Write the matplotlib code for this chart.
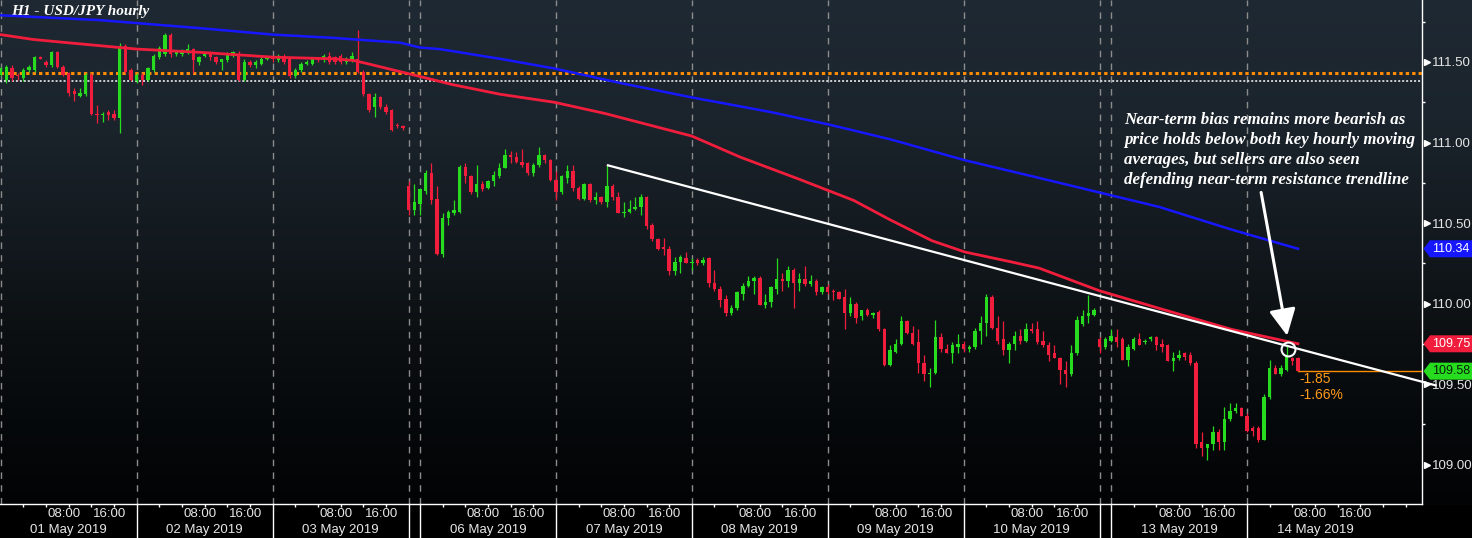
import numpy as np
import matplotlib
matplotlib.use("Agg")
import matplotlib.pyplot as plt
from matplotlib.patches import Polygon
from matplotlib.transforms import blended_transform_factory

# hourly bars, x = hours since 01 May 2019 00:00 (weekend dropped, 2 Sunday bars kept)
bar_hours = list(range(230))

opens = [
    111.42, 111.39, 111.46, 111.42, 111.40, 111.45, 111.45, 111.53, 111.50, 111.48,
    111.56, 111.47, 111.43, 111.32, 111.29, 111.30, 111.42, 111.18, 111.17, 111.19,
    111.18, 111.15, 111.60, 111.45, 111.38, 111.42, 111.39, 111.45, 111.53, 111.55,
    111.67, 111.55, 111.55, 111.56, 111.58, 111.50, 111.54, 111.56, 111.53, 111.50,
    111.51, 111.54, 111.54, 111.39, 111.50, 111.48, 111.49, 111.52, 111.53, 111.51,
    111.54, 111.52, 111.41, 111.45, 111.49, 111.49, 111.52, 111.51, 111.54, 111.53,
    111.54, 111.50, 111.51, 111.52, 111.44, 111.30, 111.22, 111.28, 111.22, 111.20,
    111.11, 111.10, 110.73, 110.58, 110.62, 110.70, 110.81, 110.65, 110.31, 110.53,
    110.56, 110.57, 110.85, 110.79, 110.69, 110.74, 110.72, 110.76, 110.79, 110.84,
    110.92, 110.91, 110.88, 110.87, 110.81, 110.86, 110.92, 110.89, 110.77, 110.69,
    110.78, 110.82, 110.72, 110.65, 110.74, 110.64, 110.66, 110.63, 110.73, 110.66,
    110.56, 110.57, 110.59, 110.60, 110.66, 110.49, 110.40, 110.35, 110.34, 110.20,
    110.26, 110.28, 110.25, 110.27, 110.25, 110.28, 110.13, 110.09, 110.03, 109.94,
    109.97, 110.06, 110.11, 110.14, 110.16, 109.99, 110.01, 110.09, 110.15, 110.14,
    110.21, 110.13, 110.15, 110.12, 110.14, 110.07, 110.10, 110.08, 110.07, 110.04,
    109.94, 110.00, 109.92, 109.96, 109.93, 109.95, 109.84, 109.62, 109.70, 109.75,
    109.89, 109.82, 109.76, 109.63, 109.56, 109.57, 109.79, 109.72, 109.69, 109.73,
    109.75, 109.72, 109.73, 109.83, 109.88, 110.04, 109.85, 109.78, 109.71, 109.75,
    109.80, 109.77, 109.84, 109.84, 109.77, 109.74, 109.69, 109.66, 109.59, 109.56,
    109.69, 109.87, 109.92, 109.93, 109.78, 109.73, 109.77, 109.79, 109.78, 109.65,
    109.72, 109.78, 109.76, 109.78, 109.79, 109.75, 109.74, 109.64, 109.66, 109.69,
    109.68, 109.63, 109.14, 109.10, 109.13, 109.20, 109.14, 109.28, 109.33, 109.35,
    109.30, 109.23, 109.23, 109.15, 109.42, 109.60, 109.56, 109.59, 109.66, 109.66,
]
highs = [
    111.47, 111.48, 111.48, 111.43, 111.46, 111.48, 111.54, 111.54, 111.51, 111.57,
    111.57, 111.48, 111.44, 111.34, 111.34, 111.43, 111.43, 111.23, 111.19, 111.20,
    111.20, 111.62, 111.61, 111.46, 111.43, 111.43, 111.47, 111.55, 111.60, 111.68,
    111.68, 111.57, 111.58, 111.61, 111.59, 111.54, 111.56, 111.57, 111.54, 111.52,
    111.56, 111.57, 111.57, 111.52, 111.51, 111.51, 111.53, 111.54, 111.54, 111.55,
    111.55, 111.53, 111.46, 111.50, 111.51, 111.52, 111.53, 111.55, 111.56, 111.54,
    111.55, 111.53, 111.56, 111.70, 111.45, 111.31, 111.31, 111.29, 111.24, 111.21,
    111.12, 111.11, 110.76, 110.74, 110.72, 110.83, 110.87, 110.73, 110.56, 110.58,
    110.64, 110.86, 110.87, 110.80, 110.86, 110.76, 110.77, 110.82, 110.87, 110.96,
    110.95, 110.94, 110.96, 110.88, 110.87, 110.97, 110.93, 110.90, 110.82, 110.80,
    110.86, 110.86, 110.73, 110.75, 110.75, 110.69, 110.67, 110.86, 110.74, 110.69,
    110.63, 110.64, 110.66, 110.68, 110.67, 110.50, 110.41, 110.41, 110.36, 110.29,
    110.30, 110.32, 110.28, 110.28, 110.29, 110.29, 110.21, 110.11, 110.05, 109.99,
    110.08, 110.13, 110.17, 110.17, 110.17, 110.06, 110.11, 110.28, 110.19, 110.23,
    110.22, 110.19, 110.23, 110.18, 110.15, 110.11, 110.12, 110.09, 110.08, 110.09,
    110.04, 110.01, 109.96, 109.97, 109.95, 109.96, 109.85, 109.74, 109.78, 109.92,
    109.90, 109.86, 109.84, 109.68, 109.60, 109.90, 109.82, 109.75, 109.76, 109.81,
    109.77, 109.74, 109.85, 109.92, 110.06, 110.05, 109.92, 109.89, 109.76, 109.83,
    109.84, 109.88, 109.88, 109.89, 109.83, 109.76, 109.74, 109.67, 109.64, 109.74,
    109.92, 109.96, 110.05, 109.97, 109.79, 109.79, 109.84, 109.84, 109.79, 109.75,
    109.79, 109.82, 109.78, 109.80, 109.80, 109.78, 109.75, 109.70, 109.71, 109.70,
    109.70, 109.64, 109.20, 109.13, 109.24, 109.22, 109.36, 109.38, 109.38, 109.36,
    109.32, 109.24, 109.24, 109.44, 109.65, 109.62, 109.62, 109.74, 109.67, 109.67,
]
lows = [
    111.41, 111.37, 111.38, 111.39, 111.38, 111.44, 111.44, 111.52, 111.47, 111.47,
    111.46, 111.41, 111.29, 111.26, 111.28, 111.29, 111.17, 111.12, 111.13, 111.14,
    111.14, 111.06, 111.43, 111.38, 111.37, 111.36, 111.38, 111.44, 111.52, 111.54,
    111.53, 111.54, 111.54, 111.55, 111.43, 111.48, 111.53, 111.51, 111.49, 111.45,
    111.50, 111.53, 111.38, 111.38, 111.47, 111.46, 111.48, 111.51, 111.50, 111.50,
    111.49, 111.40, 111.40, 111.44, 111.48, 111.48, 111.50, 111.50, 111.49, 111.49,
    111.49, 111.49, 111.50, 111.43, 111.29, 111.19, 111.16, 111.21, 111.18, 111.07,
    111.09, 111.08, 110.55, 110.55, 110.55, 110.68, 110.62, 110.30, 110.29, 110.49,
    110.55, 110.56, 110.75, 110.68, 110.66, 110.70, 110.71, 110.73, 110.78, 110.84,
    110.87, 110.87, 110.85, 110.80, 110.79, 110.85, 110.87, 110.76, 110.64, 110.68,
    110.75, 110.70, 110.64, 110.64, 110.63, 110.62, 110.62, 110.60, 110.64, 110.56,
    110.54, 110.56, 110.58, 110.55, 110.46, 110.39, 110.33, 110.30, 110.18, 110.18,
    110.19, 110.25, 110.21, 110.24, 110.24, 110.10, 110.08, 109.98, 109.92, 109.93,
    109.96, 110.02, 110.10, 110.06, 109.99, 109.97, 109.98, 110.06, 110.08, 110.10,
    109.97, 110.08, 110.11, 110.11, 110.05, 110.06, 110.06, 110.02, 110.03, 109.84,
    109.92, 109.88, 109.90, 109.92, 109.91, 109.83, 109.61, 109.61, 109.69, 109.74,
    109.81, 109.74, 109.57, 109.52, 109.48, 109.56, 109.70, 109.69, 109.63, 109.69,
    109.70, 109.70, 109.72, 109.75, 109.80, 109.84, 109.75, 109.68, 109.63, 109.71,
    109.75, 109.76, 109.82, 109.75, 109.73, 109.64, 109.66, 109.50, 109.48, 109.55,
    109.68, 109.86, 109.88, 109.92, 109.69, 109.72, 109.76, 109.73, 109.65, 109.61,
    109.71, 109.74, 109.75, 109.77, 109.71, 109.70, 109.64, 109.58, 109.65, 109.65,
    109.62, 109.10, 109.05, 109.03, 109.09, 109.09, 109.09, 109.27, 109.32, 109.30,
    109.20, 109.18, 109.14, 109.15, 109.41, 109.56, 109.55, 109.58, 109.62, 109.58,
]
closes = [
    111.46, 111.47, 111.40, 111.41, 111.45, 111.47, 111.53, 111.52, 111.48, 111.56,
    111.47, 111.42, 111.31, 111.30, 111.31, 111.42, 111.18, 111.17, 111.18, 111.17,
    111.15, 111.60, 111.44, 111.39, 111.42, 111.39, 111.46, 111.54, 111.59, 111.67,
    111.55, 111.56, 111.57, 111.58, 111.51, 111.53, 111.55, 111.53, 111.50, 111.52,
    111.55, 111.56, 111.39, 111.50, 111.48, 111.50, 111.52, 111.53, 111.52, 111.54,
    111.50, 111.41, 111.45, 111.49, 111.50, 111.52, 111.51, 111.54, 111.50, 111.50,
    111.50, 111.52, 111.54, 111.44, 111.30, 111.20, 111.28, 111.22, 111.19, 111.08,
    111.10, 111.09, 110.58, 110.63, 110.71, 110.81, 110.64, 110.31, 110.53, 110.57,
    110.58, 110.85, 110.79, 110.69, 110.74, 110.71, 110.76, 110.80, 110.84, 110.92,
    110.91, 110.88, 110.86, 110.81, 110.86, 110.92, 110.89, 110.77, 110.69, 110.79,
    110.82, 110.72, 110.65, 110.74, 110.64, 110.66, 110.63, 110.73, 110.66, 110.56,
    110.57, 110.59, 110.60, 110.66, 110.48, 110.40, 110.34, 110.34, 110.20, 110.26,
    110.29, 110.25, 110.26, 110.25, 110.27, 110.13, 110.09, 110.02, 109.94, 109.97,
    110.07, 110.11, 110.14, 110.16, 109.99, 110.01, 110.10, 110.15, 110.14, 110.21,
    110.13, 110.15, 110.12, 110.14, 110.07, 110.10, 110.07, 110.07, 110.03, 109.94,
    110.00, 109.91, 109.96, 109.93, 109.94, 109.84, 109.62, 109.71, 109.75, 109.89,
    109.82, 109.75, 109.63, 109.56, 109.57, 109.79, 109.72, 109.69, 109.74, 109.75,
    109.72, 109.73, 109.83, 109.88, 110.04, 109.85, 109.77, 109.71, 109.75, 109.80,
    109.77, 109.84, 109.83, 109.76, 109.74, 109.68, 109.66, 109.59, 109.56, 109.69,
    109.90, 109.92, 109.94, 109.96, 109.73, 109.78, 109.80, 109.76, 109.65, 109.73,
    109.78, 109.74, 109.77, 109.79, 109.74, 109.73, 109.64, 109.66, 109.68, 109.67,
    109.63, 109.13, 109.10, 109.13, 109.20, 109.14, 109.28, 109.33, 109.35, 109.30,
    109.21, 109.21, 109.15, 109.42, 109.60, 109.56, 109.60, 109.68, 109.64, 109.58,
]

# hourly moving averages at a few points
ma_red_hours = [0, 5.7, 11.7, 24.1, 35.2, 48.1, 58.6, 62.2, 64.7, 70.5, 74, 79.7, 88.1, 97.7,
                106.7, 122, 130.5, 141.1, 150.6, 157, 164.4, 170.2, 178.2, 183.3, 193.9,
                204.5, 217.2, 229]
ma_red = [111.67, 111.64, 111.62, 111.58, 111.56, 111.53, 111.52, 111.51, 111.49, 111.44,
          111.41, 111.36, 111.30, 111.25, 111.18, 111.04, 110.91, 110.77, 110.64, 110.52,
          110.39, 110.32, 110.26, 110.22, 110.08, 109.97, 109.84, 109.75]
ma_blue_hours = [0, 17.5, 35.2, 48.1, 58.6, 70.5, 74, 77.5, 88.1, 97.7, 109.3, 122, 135.8,
                 146.4, 157, 170.2, 183.3, 193.9, 204.5, 217.2, 229]
ma_blue = [111.79, 111.76, 111.71, 111.67, 111.65, 111.62, 111.59, 111.58, 111.52, 111.46,
           111.37, 111.28, 111.19, 111.11, 111.02, 110.89, 110.78, 110.69, 110.60, 110.46,
           110.34]

trend_hours = [107, 253.5]
trend_prices = [110.86, 109.49]

session_breaks = [0, 24, 48, 72, 74, 98, 122, 146, 170, 194, 196, 220]
day_starts = [0, 24, 48, 74, 98, 122, 146, 170, 196, 220]
day_labels = ['01 May 2019', '02 May 2019', '03 May 2019', '06 May 2019', '07 May 2019',
              '08 May 2019', '09 May 2019', '10 May 2019', '13 May 2019', '14 May 2019']

orange_level = 111.43
white_level = 111.38
last_price = 109.58
tag_values = [110.34, 109.75, 109.58]
change_lines = ['-1.85', '-1.66%']
note_lines = ['Near-term bias remains more bearish as',
              'price holds below both key hourly moving',
              'averages, but sellers are also seen',
              'defending near-term resistance trendline']

GREEN = '#27dc1f'
RED = '#f01e3c'
BLUE = '#1717ff'
ORANGE = '#ff9a1a'
SANS = ['Liberation Sans', 'DejaVu Sans']
SERIF = ['Liberation Serif', 'DejaVu Serif']

W, H = 1472, 538
fig = plt.figure(figsize=(W / 100, H / 100), dpi=100)
fig.patch.set_facecolor('black')

# background gradient over the whole figure (dark slate -> black)
bg = fig.add_axes([0, 0, 1, 1], zorder=0)
rows = np.arange(H)
stop_y = [0, 120, 250, 330, 420, 504]
stop_c = np.array([[31, 41, 51], [27, 36, 44], [18, 24, 29], [12, 16, 19], [6, 9, 11], [2, 3, 4]]) / 255
grad = np.stack([np.interp(rows, stop_y, stop_c[:, k]) for k in range(3)], axis=1)
grad[rows > 504] = 0
bg.imshow(grad[:, None, :], aspect='auto', extent=[0, 1, 0, 1], interpolation='nearest')
bg.axis('off')

ax = fig.add_axes([0, 34 / H, 1422 / W, 504 / H], zorder=1)
ax.set_facecolor('none')
ax.set_xlim(-0.13, 250.9)
ax.set_ylim(108.755, 111.885)

o = np.array(opens)
c = np.array(closes)
up = c >= o
colors = np.where(up, GREEN, RED)

# session separators
for h in session_breaks:
    ax.axvline(h, color='#8c8c8c', lw=1, ls=(0, (4.7, 4.5)), zorder=1)

ax.axhline(orange_level, color='#ff8c00', lw=2.2, ls=(0, (1.1, 1.0)), zorder=2)
ax.axhline(white_level, color='white', lw=1.1, ls=(0, (1.3, 1.3)), zorder=2)

ax.vlines(bar_hours, lows, highs, colors=colors, lw=0.9, zorder=3)
ax.bar(bar_hours, np.maximum(np.abs(c - o), 0.008), bottom=np.minimum(o, c),
       width=0.6, color=colors, zorder=3)

ax.plot(ma_blue_hours, ma_blue, color=BLUE, lw=1.8, zorder=4)
ax.plot(ma_red_hours, ma_red, color=RED, lw=2.0, zorder=4)

ax.plot(trend_hours, trend_prices, color='white', lw=1.6, zorder=5, clip_on=False,
        solid_capstyle='butt')

# last price line and change
ax.plot([bar_hours[-1], 250.9], [last_price, last_price], color='#ff8c00', lw=1, zorder=2)
ax.text(bar_hours[-1] + 0.2, 109.53, change_lines[0], color=ORANGE, fontsize=10,
        family=SANS, va='center', ha='left', zorder=6)
ax.text(bar_hours[-1] + 0.2, 109.43, change_lines[1], color=ORANGE, fontsize=10,
        family=SANS, va='center', ha='left', zorder=6)

# annotation
ax.plot([227.2], [109.72], 'o', ms=10, mfc='none', mec='white', mew=1.5, zorder=6)
ax.annotate('', xy=(227.1, 109.80), xytext=(222.5, 110.69),
            arrowprops=dict(arrowstyle='-|>,head_length=0.9,head_width=0.45',
                            color='white', lw=2.2, mutation_scale=18,
                            shrinkA=0, shrinkB=0), zorder=6)
for i, line in enumerate(note_lines):
    ax.text(198.3, 111.14 - i * 0.124, line, color='white', fontsize=12.2,
            family=SERIF, style='italic', weight='bold', va='center', ha='left', zorder=6)

ax.text(0.008, 0.977, 'H1 - USD/JPY hourly', transform=ax.transAxes, color='white',
        fontsize=11, family=SERIF, style='italic', weight='bold', va='center', ha='left')

# spines
for s in ['top', 'left']:
    ax.spines[s].set_visible(False)
for s in ['right', 'bottom']:
    ax.spines[s].set_color('white')
    ax.spines[s].set_linewidth(1)

# right price axis
ax.yaxis.tick_right()
ax.set_yticks([109.0, 109.5, 110.0, 110.5, 111.0, 111.5])
ax.set_yticklabels(['109.00', '109.50', '110.00', '110.50', '111.00', '111.50'])
ax.set_yticks([109.25, 109.75, 110.25, 110.75, 111.25, 111.75], minor=True)
ax.tick_params(axis='y', which='major', length=0, pad=7, labelsize=9.5, labelcolor='#e6e6e6')
ax.tick_params(axis='y', which='minor', length=2.5, width=1, color='white', direction='out')
for lab in ax.get_yticklabels():
    lab.set_family(SANS)
yt = blended_transform_factory(ax.transAxes, ax.transData)
ax.plot([1.0032] * 6, [109.0, 109.5, 110.0, 110.5, 111.0, 111.5], '>', ms=5,
        color='white', transform=yt, clip_on=False)

# price tags
tag_face = [BLUE, RED, GREEN]
tag_text = ['white', 'white', '#062006']
hh = 8.5 / 161
for val, fc, tc in zip(tag_values, tag_face, tag_text):
    x0, x1, x2 = 1 + 1.5 / 1422, 1 + 8 / 1422, 1 + 60 / 1422
    poly = Polygon([(x0, val), (x1, val + hh), (x2, val + hh), (x2, val - hh), (x1, val - hh)],
                   closed=True, facecolor=fc, edgecolor='none', transform=yt,
                   clip_on=False, zorder=7)
    ax.add_patch(poly)
    ax.text(1 + 10 / 1422, val, f'{val:.2f}', color=tc, fontsize=9, family=SANS,
            va='center', ha='left', transform=yt, clip_on=False, zorder=8)

# time axis
ticks = []
for d in day_starts:
    ticks += [d + k for k in (4, 8, 12, 16, 20)]
ticks += [244, 248]
ax.set_xticks(ticks)
ax.set_xticklabels([])
ax.tick_params(axis='x', length=2.5, width=1, color='white', direction='out')
xt = blended_transform_factory(ax.transData, ax.transAxes)
for h in session_breaks[1:]:
    ax.plot([h, h], [0, -34 / 504], color='white', lw=1, transform=xt, clip_on=False)
for d, lab in zip(day_starts, day_labels):
    ax.text(d + 8.3, -10 / 504, '08:00', color='#e6e6e6', fontsize=9.5, family=SANS,
            va='center', ha='left', transform=xt)
    ax.text(d + 16.3, -10 / 504, '16:00', color='#e6e6e6', fontsize=9.5, family=SANS,
            va='center', ha='left', transform=xt)
    ax.text(d + 12, -26 / 504, lab, color='#e6e6e6', fontsize=9.5, family=SANS,
            va='center', ha='center', transform=xt)

fig.savefig('out.png', dpi=100, facecolor=fig.get_facecolor())
